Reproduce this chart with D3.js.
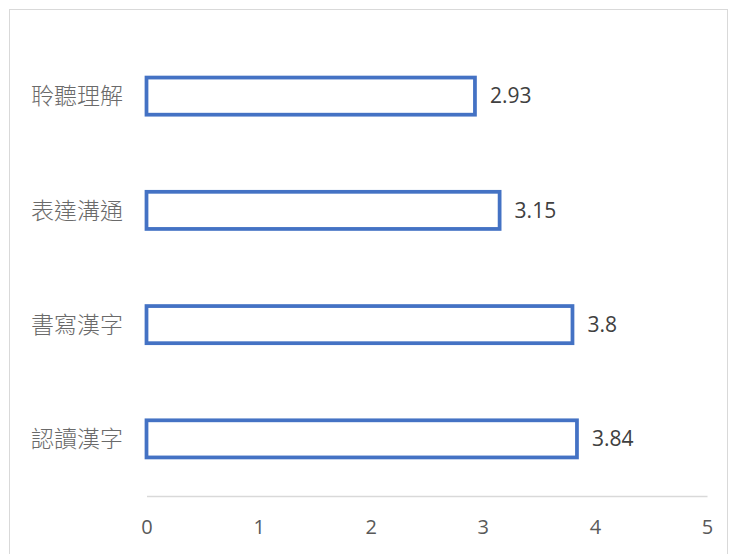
<!DOCTYPE html>
<html><head><meta charset="utf-8">
<script src="https://cdn.jsdelivr.net/npm/d3@7"></script>
<style>body{margin:0;background:#fff;}svg{display:block;}</style>
</head><body>
<script>
const categories = ["聆聽理解", "表達溝通", "書寫漢字", "認讀漢字"];
const values = [2.93, 3.15, 3.8, 3.84];
const tickValues = [0, 1, 2, 3, 4, 5];

const W = 729, H = 554;
const svg = d3.select("body").append("svg").attr("width", W).attr("height", H);
svg.append("rect").attr("x", 9.5).attr("y", 9.5).attr("width", 718).attr("height", 560)
  .attr("fill", "#fff").attr("stroke", "#d9d9d9").attr("stroke-width", 1);

const x = d3.scaleLinear().domain([0, 5]).range([146.5, 707]);
const y = d3.scaleBand().domain(categories).range([39, 496]).paddingInner(0.675).paddingOuter(0.3375);

const latin = "'Segoe UI', 'Open Sans', 'Noto Sans', sans-serif";
const cjk = "'Noto Sans CJK TC', 'Noto Sans CJK SC', sans-serif";

// axis
const ax = svg.append("g").attr("transform", "translate(0,496)")
  .call(d3.axisBottom(x).tickValues(tickValues).tickSize(0).tickPadding(24).tickFormat(d3.format("d")));
ax.select(".domain").attr("stroke", "#d9d9d9").attr("stroke-width", 1.5);
ax.selectAll("text").attr("fill", "#595959").style("font-size", "20px").style("font-family", latin);

// bars
svg.selectAll("rect.bar").data(values).join("rect").attr("class", "bar")
  .attr("x", x(0)).attr("y", (d, i) => y(categories[i]))
  .attr("width", d => x(d) - x(0)).attr("height", y.bandwidth())
  .attr("fill", "#fff").attr("stroke", "#4472c4").attr("stroke-width", 3.75);

// value labels
svg.selectAll("text.val").data(values).join("text").attr("class", "val")
  .attr("x", d => x(d) + 15).attr("y", (d, i) => y(categories[i]) + y.bandwidth() / 2)
  .attr("dy", "0.35em").attr("fill", "#404040").style("font-size", "21px").style("font-family", latin)
  .text(d => d);

// category labels
svg.selectAll("text.cat").data(categories).join("text").attr("class", "cat")
  .attr("x", 123).attr("y", d => y(d) + y.bandwidth() / 2)
  .attr("dy", "0.36em").attr("text-anchor", "end").attr("fill", "#6a6a6a")
  .style("font-size", "23px").style("font-family", cjk).style("font-weight", 300)
  .text(d => d);
</script>
</body></html>
